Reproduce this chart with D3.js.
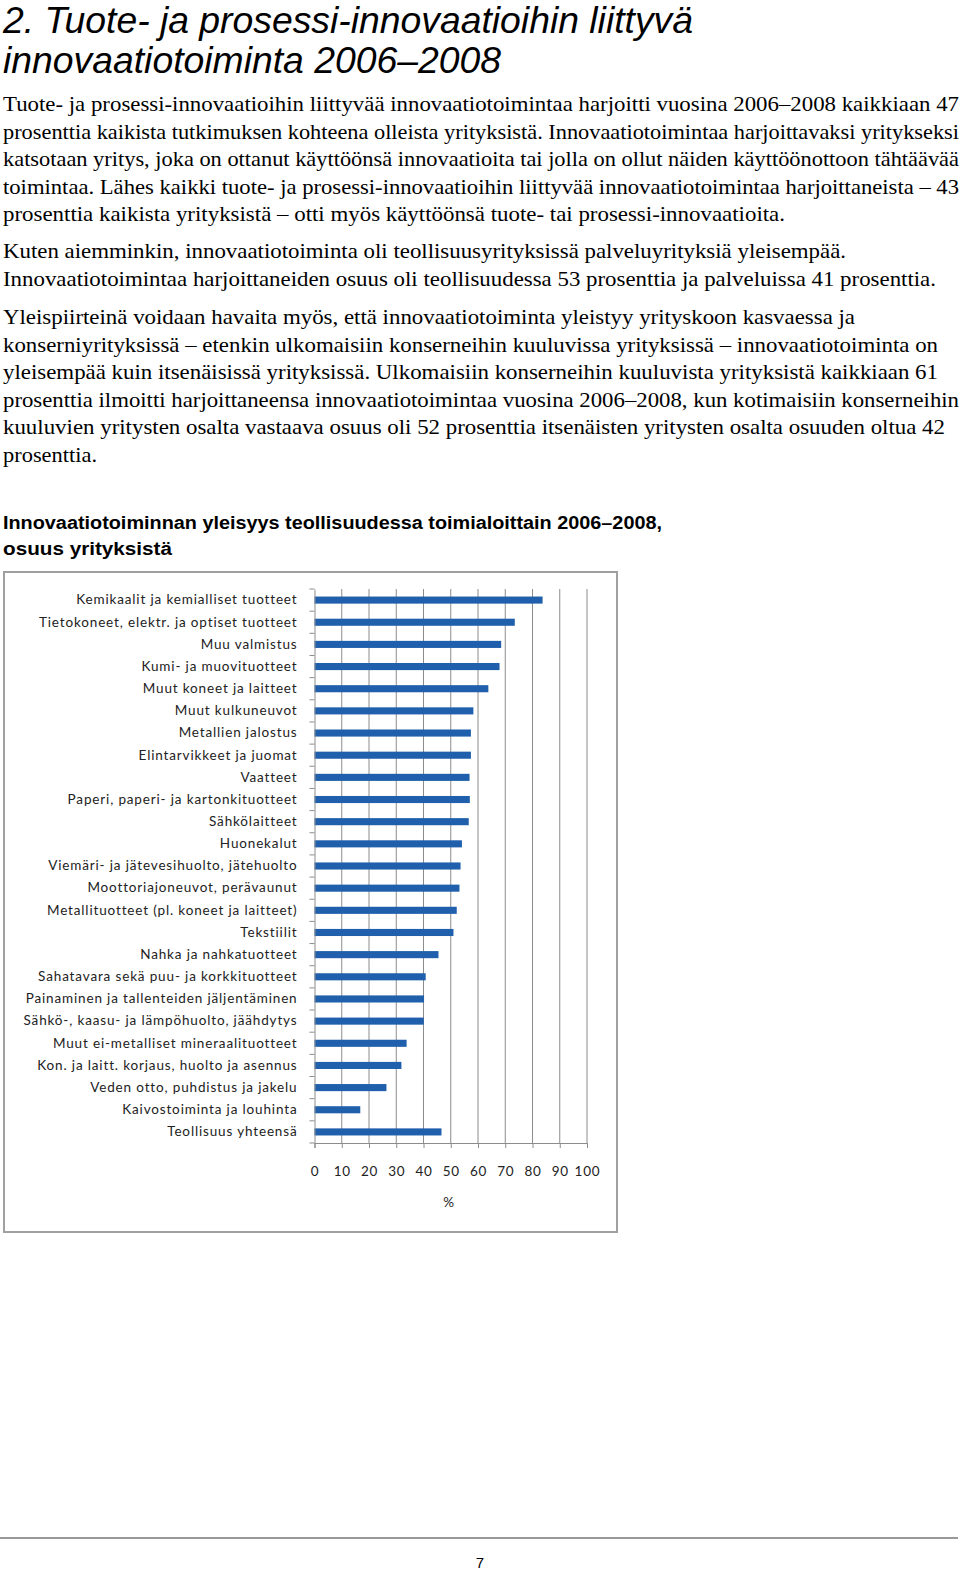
<!DOCTYPE html>
<html>
<head>
<meta charset="utf-8">
<script src="https://cdn.jsdelivr.net/npm/d3@7"></script>
<style>
  html, body { margin: 0; padding: 0; background: #fff; }
  svg { display: block; }
</style>
</head>
<body>
<div id="page"></div>
<script>
// Toimialat (ylhäältä alas) ja innovaatiotoimintaa harjoittaneiden osuus, %
const categories = [
  "Kemikaalit ja kemialliset  tuotteet",
  "Tietokoneet, elektr. ja optiset tuotteet",
  "Muu valmistus",
  "Kumi- ja muovituotteet",
  "Muut koneet ja laitteet",
  "Muut kulkuneuvot",
  "Metallien jalostus",
  "Elintarvikkeet ja juomat",
  "Vaatteet",
  "Paperi, paperi- ja kartonkituotteet",
  "Sähkölaitteet",
  "Huonekalut",
  "Viemäri- ja jätevesihuolto, jätehuolto",
  "Moottoriajoneuvot, perävaunut",
  "Metallituotteet (pl. koneet ja laitteet)",
  "Tekstiilit",
  "Nahka ja nahkatuotteet",
  "Sahatavara sekä puu- ja korkkituotteet",
  "Painaminen ja tallenteiden jäljentäminen",
  "Sähkö-, kaasu- ja lämpöhuolto, jäähdytys",
  "Muut ei-metalliset mineraalituotteet",
  "Kon. ja laitt. korjaus, huolto ja asennus",
  "Veden otto, puhdistus ja jakelu",
  "Kaivostoiminta ja louhinta",
  "Teollisuus yhteensä"
];
const values = [83.7, 73.5, 68.5, 67.9, 63.8, 58.3, 57.4, 57.4, 56.9, 57.0, 56.6, 54.1,
  53.6, 53.2, 52.2, 51.0, 45.5, 40.8, 40.2, 40.1, 33.8, 31.9, 26.4, 16.8, 46.6];
const xTicks = [0, 10, 20, 30, 40, 50, 60, 70, 80, 90, 100];
const xLabel = "%";

const headingLines = ["2. Tuote- ja prosessi-innovaatioihin liittyvä", "innovaatiotoiminta 2006–2008"];
const chartTitleLines = ["Innovaatiotoiminnan yleisyys teollisuudessa toimialoittain 2006–2008,", "osuus yrityksistä"];
const paragraphs = [
  ["Tuote- ja prosessi-innovaatioihin liittyvää innovaatiotoimintaa harjoitti vuosina 2006–2008 kaikkiaan 47",
   "prosenttia kaikista tutkimuksen kohteena olleista yrityksistä. Innovaatiotoimintaa harjoittavaksi yritykseksi",
   "katsotaan yritys, joka on ottanut käyttöönsä innovaatioita tai jolla on ollut näiden käyttöönottoon tähtäävää",
   "toimintaa. Lähes kaikki tuote- ja prosessi-innovaatioihin liittyvää innovaatiotoimintaa harjoittaneista – 43",
   "prosenttia kaikista yrityksistä – otti myös käyttöönsä tuote- tai prosessi-innovaatioita."],
  ["Kuten aiemminkin, innovaatiotoiminta oli teollisuusyrityksissä palveluyrityksiä yleisempää.",
   "Innovaatiotoimintaa harjoittaneiden osuus oli teollisuudessa 53 prosenttia ja palveluissa 41 prosenttia."],
  ["Yleispiirteinä voidaan havaita myös, että innovaatiotoiminta yleistyy yrityskoon kasvaessa ja",
   "konserniyrityksissä – etenkin ulkomaisiin konserneihin kuuluvissa yrityksissä – innovaatiotoiminta on",
   "yleisempää kuin itsenäisissä yrityksissä. Ulkomaisiin konserneihin kuuluvista yrityksistä kaikkiaan 61",
   "prosenttia ilmoitti harjoittaneensa innovaatiotoimintaa vuosina 2006–2008, kun kotimaisiin konserneihin",
   "kuuluvien yritysten osalta vastaava osuus oli 52 prosenttia itsenäisten yritysten osalta osuuden oltua 42",
   "prosenttia."]
];
// line widths as they appear on the page (justified text)
const paragraphWidths = [
  [956, 956, 956, 956, 782],
  [843, 933],
  [852, 935, 935, 956, 942, 94]
];
const paragraphTops = [111, 258, 324];
const lineGap = 27.6;

const W = 960, H = 1572;
const svg = d3.select("#page").append("svg").attr("width", W).attr("height", H);
svg.append("rect").attr("width", W).attr("height", H).attr("fill", "#fff");

// heading
svg.append("g").selectAll("text").data(headingLines).enter().append("text")
  .attr("x", 3).attr("y", (d, i) => 33 + i * 40)
  .attr("font-family", "'Liberation Sans Narrow', 'Arial Narrow', 'Liberation Sans', sans-serif")
  .attr("font-style", "italic")
  .attr("font-size", 37)
  .attr("fill", "#000")
  .attr("textLength", (d, i) => i === 0 ? 690 : 498)
  .attr("lengthAdjust", "spacingAndGlyphs")
  .text(d => d);

// body text
paragraphs.forEach((lines, p) => {
  svg.append("g").selectAll("text").data(lines).enter().append("text")
    .attr("x", 3).attr("y", (d, i) => paragraphTops[p] + i * lineGap)
    .attr("font-family", "'Liberation Serif', 'Times New Roman', serif")
    .attr("font-size", 21.5)
    .attr("fill", "#000")
    .attr("textLength", (d, i) => paragraphWidths[p][i])
    .attr("lengthAdjust", "spacingAndGlyphs")
    .text(d => d);
});

// chart title
svg.append("g").selectAll("text").data(chartTitleLines).enter().append("text")
  .attr("x", 3).attr("y", (d, i) => 529 + i * 26)
  .attr("font-family", "'Liberation Sans', Arial, sans-serif")
  .attr("font-weight", "bold")
  .attr("font-size", 18)
  .attr("fill", "#000")
  .attr("textLength", (d, i) => i === 0 ? 659 : 169)
  .attr("lengthAdjust", "spacingAndGlyphs")
  .text(d => d);

// chart frame
svg.append("rect")
  .attr("x", 4).attr("y", 572).attr("width", 613).attr("height", 660)
  .attr("fill", "none").attr("stroke", "#a0a0a0").attr("stroke-width", 2);

const plot = { left: 314.5, right: 587, top: 589, bottom: 1143 };

const x = d3.scaleLinear().domain([0, 100]).range([plot.left, plot.right]);
const y = d3.scaleBand().domain(categories).range([plot.top, plot.bottom])
  .paddingInner(0.68).paddingOuter(0.34);

const g = svg.append("g");

// vertical gridlines
g.append("g").selectAll("line").data(xTicks.filter(t => t > 0)).enter().append("line")
  .attr("x1", d => x(d)).attr("x2", d => x(d))
  .attr("y1", plot.top).attr("y2", plot.bottom)
  .attr("stroke", "#8c8c8c").attr("stroke-width", 1);

// bars
g.append("g").selectAll("rect").data(values).enter().append("rect")
  .attr("x", x(0))
  .attr("y", (d, i) => y(categories[i]))
  .attr("width", d => x(d) - x(0))
  .attr("height", y.bandwidth())
  .attr("fill", "#1f5fab");

// bottom axis
const xAxis = g.append("g")
  .attr("transform", `translate(0,${plot.bottom})`)
  .call(d3.axisBottom(x).tickValues(xTicks).tickSize(5).tickPadding(18).tickFormat(d3.format("d")));
xAxis.select(".domain").attr("stroke", "#8c8c8c");
xAxis.selectAll(".tick line").attr("stroke", "#8c8c8c");
xAxis.selectAll("text")
  .attr("font-family", "Lato, 'Open Sans', sans-serif")
  .attr("font-size", 13.5)
  .attr("letter-spacing", 0.8)
  .attr("fill", "#222");

// left axis: labels, with tick marks at category boundaries
const yAxis = g.append("g")
  .attr("transform", `translate(${plot.left},0)`)
  .call(d3.axisLeft(y).tickSize(0).tickPadding(17));
yAxis.select(".domain").attr("stroke", "#8c8c8c");
yAxis.selectAll("text")
  .attr("font-family", "Lato, 'Open Sans', sans-serif")
  .attr("font-size", 13.5)
  .attr("letter-spacing", 0.85)
  .attr("fill", "#222");

g.append("g").selectAll("line").data(d3.range(categories.length + 1)).enter().append("line")
  .attr("x1", plot.left - 5).attr("x2", plot.left)
  .attr("y1", i => y.range()[0] + i * y.step())
  .attr("y2", i => y.range()[0] + i * y.step())
  .attr("stroke", "#8c8c8c");

// axis title
g.append("text")
  .attr("x", (plot.left + plot.right) / 2 - 2).attr("y", 1207)
  .attr("text-anchor", "middle")
  .attr("font-family", "Lato, 'Open Sans', sans-serif")
  .attr("font-size", 13.5)
  .attr("fill", "#222")
  .text(xLabel);

// page footer
svg.append("line")
  .attr("x1", 0).attr("x2", 958).attr("y1", 1538).attr("y2", 1538)
  .attr("stroke", "#999").attr("stroke-width", 2);
svg.append("text")
  .attr("x", 480).attr("y", 1568)
  .attr("text-anchor", "middle")
  .attr("font-family", "'Liberation Sans Narrow', 'Liberation Sans', sans-serif")
  .attr("font-size", 15)
  .attr("fill", "#000")
  .text("7");
</script>
</body>
</html>
